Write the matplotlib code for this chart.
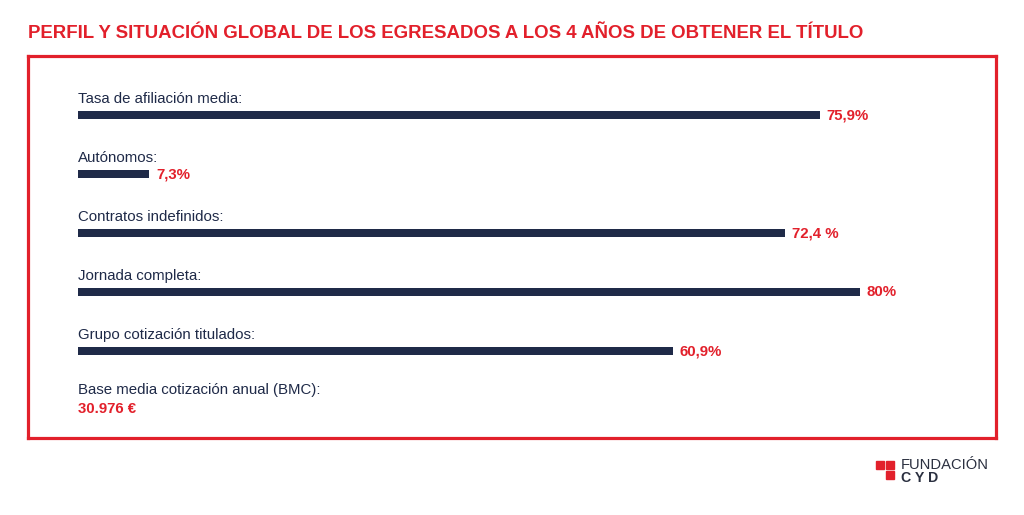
import matplotlib.pyplot as plt
from matplotlib.patches import Rectangle

plt.rcParams['font.family'] = ['Liberation Sans', 'DejaVu Sans']

RED = '#e2202b'
NAVY = '#1f2a48'

labels = ['Tasa de afiliación media:', 'Autónomos:', 'Contratos indefinidos:',
          'Jornada completa:', 'Grupo cotización titulados:',
          'Base media cotización anual (BMC):']
values = [75.9, 7.3, 72.4, 80.0, 60.9]
value_texts = ['75,9%', '7,3%', '72,4 %', '80%', '60,9%', '30.976 €']

W, H = 1024, 515
fig = plt.figure(figsize=(W / 100, H / 100), dpi=100)
fig.patch.set_facecolor('white')

# box from x=28..996 px, y=56..438 px; bars start at x=78
px_per_pct = 9.77
row_px = 59.0
first_row = 115
ax = fig.add_axes([28 / W, 1 - 438 / H, (996 - 28) / W, (438 - 56) / H])
ax.set_xlim(-(78 - 28) / px_per_pct, (996 - 78) / px_per_pct)
ax.set_ylim((438 - first_row) / row_px, -(first_row - 56) / row_px)

rows = list(range(len(values)))
ax.barh(rows, values, height=8 / row_px, color=NAVY, left=0)

for i, lab in enumerate(labels):
    off = 16 if i < 5 else 20
    ax.text(0, i - off / row_px, lab, fontsize=10.8, color=NAVY,
            va='center', ha='left')

for i, v in enumerate(values):
    ax.text(v + 7 / px_per_pct, i, value_texts[i], fontsize=10.8,
            color=RED, fontweight='bold', va='center', ha='left')
ax.text(0, 5 - 1 / row_px, value_texts[5], fontsize=10.8, color=RED,
        fontweight='bold', va='center', ha='left')

ax.set_xticks([])
ax.set_yticks([])
for s in ax.spines.values():
    s.set_color(RED)
    s.set_linewidth(2.3)

fig.text(28 / W, 1 - 33.5 / H,
         'PERFIL Y SITUACIÓN GLOBAL DE LOS EGRESADOS A LOS 4 AÑOS DE OBTENER EL TÍTULO',
         fontsize=13.4, fontweight='bold', color=RED, va='center', ha='left')

# logo
for (x0, y0) in [(876, 461), (886, 461), (886, 471)]:
    fig.patches.append(Rectangle((x0 / W, 1 - (y0 + 7.5) / H), 7.5 / W, 7.5 / H,
                                 transform=fig.transFigure, color=RED))
fig.text(901 / W, 1 - 465 / H, 'FUNDACIÓN', fontsize=10.6, color='#2b3040',
         va='center', ha='left')
fig.text(901 / W, 1 - 478 / H, 'C Y D', fontsize=10.2, fontweight='bold',
         color='#2b3040', va='center', ha='left')

fig.savefig('out.png', dpi=100, facecolor='white')
